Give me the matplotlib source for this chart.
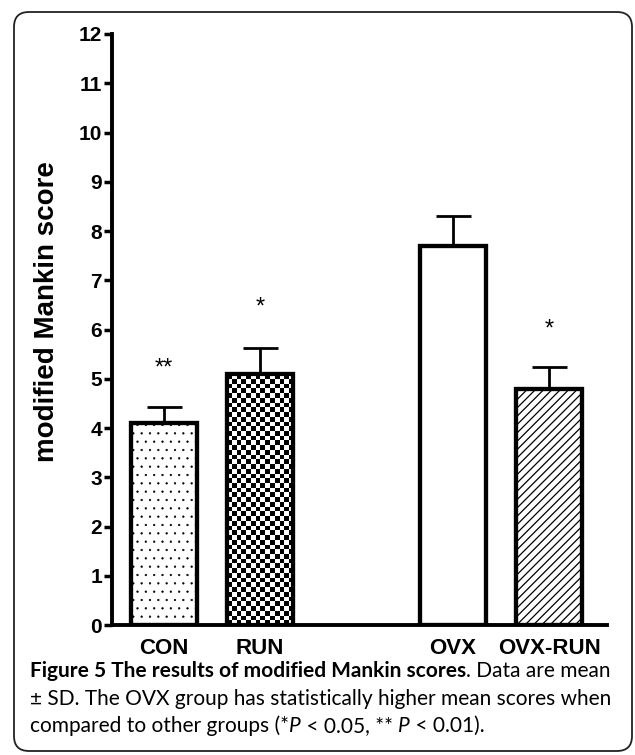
import numpy as np
import matplotlib
matplotlib.use("Agg")
import matplotlib.pyplot as plt
from matplotlib.patches import FancyBboxPatch

# ---- data ----
groups = ["CON", "RUN", "OVX", "OVX-RUN"]
positions = [0, 1, 3, 4]
means = [4.1, 5.1, 7.7, 4.8]
sds = [0.33, 0.52, 0.6, 0.45]
stars = ["**", "*", "", "*"]
star_y = [5.2, 6.45, None, 6.0]
yticks = list(range(0, 13))
caption_bold = "Figure 5 The results of modified Mankin scores"
caption_l1_rest = ". Data are mean"
caption_l2 = "\u00b1 SD. The OVX group has statistically higher mean scores when"

plt.rcParams['hatch.linewidth'] = 1.0
fig = plt.figure(figsize=(6.35, 7.55), dpi=100)
ax = fig.add_axes([0.176, 0.172, 0.78, 0.783])

W = 0.69
hatches = ["..", None, None, "////"]
bars = ax.bar(positions, means, width=W, color="white", edgecolor="black",
              linewidth=3, zorder=1)
for b, h in zip(bars, hatches):
    if h:
        b.set_hatch(h)
if hasattr(bars[0], "set_hatch_linewidth"):
    bars[0].set_hatch_linewidth(0.4)
    bars[3].set_hatch_linewidth(0.9)

# checkerboard fill for RUN (square cells, drawn from the bar's own geometry)
rb = bars[1]
x0, y0 = rb.get_x(), rb.get_y()
bw, bh = rb.get_width(), rb.get_height()
ncols = 14
px_x = 96.0   # pixels per x unit (approx)
px_y = 49.4   # pixels per y unit (approx)
cell_px = bw * px_x / ncols
nrows = int(np.ceil(bh * px_y / cell_px))
ii, jj = np.indices((nrows, ncols))
checker = ((ii + jj) % 2).astype(float)
im = ax.imshow(checker, extent=(x0, x0 + bw, y0, y0 + nrows * cell_px / px_y),
               cmap="gray", interpolation="nearest", aspect="auto", zorder=1.5,
               origin="lower")
im.set_clip_path(rb)
ax.bar(positions, means, width=W, color="none", edgecolor="black",
       linewidth=3, zorder=2)

ax.errorbar(positions, means, yerr=[np.zeros(len(sds)), sds], fmt="none",
            ecolor="black", elinewidth=2, capsize=12.6, capthick=2, zorder=0.5)

for p, s, sy in zip(positions, stars, star_y):
    if s:
        ax.text(p, sy, s, ha="center", va="center", fontsize=17,
                family="Liberation Sans")

ax.set_xlim(-0.54, 4.6)
ax.set_ylim(0, 12)
ax.set_yticks(yticks)
ax.set_yticklabels([str(t) for t in yticks], fontsize=15, fontweight="bold",
                   family="Liberation Sans")
ax.set_xticks(positions)
ax.set_xticklabels(groups, fontsize=16, fontweight="bold",
                   family="Liberation Sans")
ax.tick_params(axis="y", length=6, width=2.5, pad=1)
ax.tick_params(axis="x", length=0, pad=9)
for sp in ["top", "right"]:
    ax.spines[sp].set_visible(False)
for sp in ["left", "bottom"]:
    ax.spines[sp].set_linewidth(2.8)
fig.text(47 / 635, 1 - 312 / 755, "modified Mankin score", rotation=90,
         fontsize=20, fontweight="bold", family="Liberation Sans",
         ha="center", va="center")

# caption
cf = "Lato"
cs = 15
t1 = fig.text(30 / 635, 1 - 677 / 755, caption_bold, fontsize=cs,
              fontweight="bold", family=cf, va="baseline")
ax.annotate(caption_l1_rest, xy=(1, 0), xycoords=t1, va="bottom", ha="left",
            fontsize=cs, family=cf, annotation_clip=False)
fig.text(30 / 635, 1 - 705 / 755, caption_l2, fontsize=cs, family=cf,
         va="baseline")
parts = [("compared to other groups (*", "normal"), ("P", "italic"),
         (" < 0.05, ** ", "normal"), ("P", "italic"), (" < 0.01).", "normal")]
prev = fig.text(30 / 635, 1 - 732 / 755, parts[0][0], fontsize=cs, family=cf,
                va="baseline")
for txt, st in parts[1:]:
    prev = ax.annotate(txt, xy=(1, 0), xycoords=prev, va="bottom", ha="left",
                       fontsize=cs, family=cf, style=st, annotation_clip=False)

box = FancyBboxPatch((0.14, 0.04), 6.18, 7.39,
                     boxstyle="round,pad=0,rounding_size=0.15",
                     transform=fig.dpi_scale_trans, facecolor="none",
                     edgecolor="#222222", linewidth=1.3)
fig.patches.append(box)

fig.savefig("out.png", dpi=100)
